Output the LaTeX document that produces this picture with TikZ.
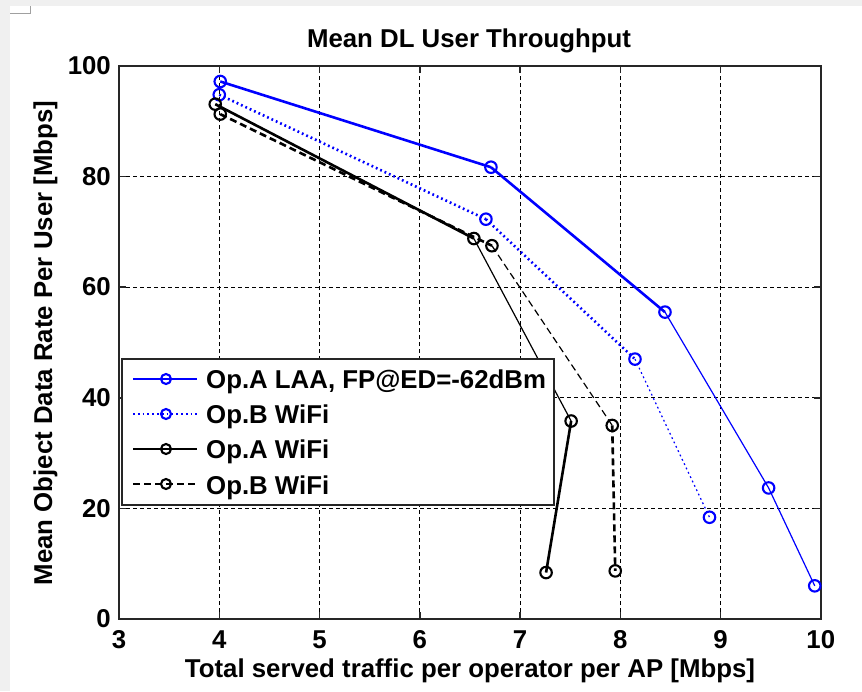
\documentclass[tikz,border=0pt]{standalone}
\usepackage{fontspec}
\setmainfont{Liberation Sans}
\definecolor{bggrey}{HTML}{F0F0F0}
\definecolor{markgrey}{HTML}{A0A0A0}
\begin{document}
\begin{tikzpicture}[x=1pt,y=-1pt,
  every node/.style={font=\fontsize{25.8}{30}\selectfont\bfseries, inner sep=0pt, text=black},
  gridline/.style={black, line width=1pt, dash pattern=on 4pt off 3pt},
  frameline/.style={black!85, line width=1.5pt},
  mkb/.style={circle, draw=blue, line width=2.1pt, minimum size=11.5pt, inner sep=0pt},
  mkk/.style={circle, draw=black, line width=2.1pt, minimum size=11.5pt, inner sep=0pt},
  thk/.style={line width=2.6pt},
  thn/.style={line width=1.2pt},
  dotb/.style={dash pattern=on 1.8pt off 3pt},
  dashk/.style={dash pattern=on 7pt off 4pt}
]
% background
\fill[bggrey] (0,0) rectangle (862,691);
\fill[white] (10,6) rectangle (862,691);
\draw[markgrey, line width=0.8pt] (10,13.3) -- (30,13.3) -- (30,6);
\useasboundingbox (0,0) rectangle (862,691);

\begin{scope}[shift={(-181.75,619)}, x=100.25pt, y=5.53pt]
  % grid
  \foreach \v in {4,...,9} \draw[gridline] (\v,0) -- (\v,100);
  \foreach \v in {20,40,60,80} \draw[gridline] (3,\v) -- (10,\v);
  % ticks
  \foreach \v in {4,...,9} {
    \draw[frameline] (\v,0) -- ++(0,1.27);
    \draw[frameline] (\v,100) -- ++(0,-1.27);
  }
  \foreach \v in {20,40,60,80} {
    \draw[frameline] (3,\v) -- ++(0.07,0);
    \draw[frameline] (10,\v) -- ++(-0.07,0);
  }
  % frame
  \draw[frameline] (3,0) rectangle (10,100);

  % data points
  \node[mkb] (a1) at (4.01,97.2) {};
  \node[mkb] (a2) at (6.71,81.7) {};
  \node[mkb] (a3) at (8.446,55.5) {};
  \node[mkb] (a4) at (9.48,23.7) {};
  \node[mkb] (a5) at (9.94,6.0) {};

  \node[mkb] (b1) at (4.00,94.8) {};
  \node[mkb] (b2) at (6.66,72.3) {};
  \node[mkb] (b3) at (8.147,47.0) {};
  \node[mkb] (b4) at (8.89,18.4) {};

  \node[mkk] (c1) at (3.96,93.1) {};
  \node[mkk] (c2) at (6.54,68.8) {};
  \node[mkk] (c3) at (7.51,35.8) {};
  \node[mkk] (c4) at (7.26,8.4) {};

  \node[mkk] (d1) at (4.01,91.3) {};
  \node[mkk] (d2) at (6.72,67.5) {};
  \node[mkk] (d3) at (7.92,35.0) {};
  \node[mkk] (d4) at (7.95,8.7) {};

  % curves
  \draw[blue,thk] (a1.center) -- (a2.center);
  \draw[blue,thk] (a2.center) -- (a3.center);
  \draw[blue,thn] (a3.center) -- (a4.center);
  \draw[blue,thn] (a4.center) -- (a5.center);

  \draw[blue,thk,dotb] (b1.center) -- (b2.center);
  \draw[blue,thk,dotb] (b2.center) -- (b3.center);
  \draw[blue,thn,dotb] (b3.center) -- (b4.center);

  \draw[black,thk] (c1.center) -- (c2.center);
  \draw[black,thn] (c2.center) -- (c3.center);
  \draw[black,thk] (c3.center) -- (c4.center);

  \draw[black,thk,dashk] (d1.center) -- (d2.center);
  \draw[black,thn,dashk] (d2.center) -- (d3.center);
  \draw[black,thk,dashk] (d3.center) -- (d4.center);
\end{scope}

% tick labels
\node[anchor=base] (x3) at (119,648) {3};
\node[anchor=base] (x4) at (219.25,648) {4};
\node[anchor=base] (x5) at (319.5,648) {5};
\node[anchor=base] (x6) at (419.75,648) {6};
\node[anchor=base] (x7) at (520,648) {7};
\node[anchor=base] (x8) at (620.25,648) {8};
\node[anchor=base] (x9) at (720.5,648) {9};
\node[anchor=base] (x10) at (820.75,648) {10};

\node[anchor=base east] (y0) at (111,627.7) {0};
\node[anchor=base east] (y20) at (111,517.1) {20};
\node[anchor=base east] (y40) at (111,406.5) {40};
\node[anchor=base east] (y60) at (111,295.9) {60};
\node[anchor=base east] (y80) at (111,185.3) {80};
\node[anchor=base east] (y100) at (111,74.7) {100};

% title and axis labels
\node[anchor=base] (title) at (469,47) {Mean DL User Throughput};
\node[anchor=base] (xlab) at (470,677) {Total served traffic per operator per AP [Mbps]};
\node[anchor=base, rotate=90] (ylab) at (52,343) {Mean Object Data Rate Per User [Mbps]};

% legend
\node[draw=black!85, fill=white, line width=1.5pt, minimum width=432pt, minimum height=146pt, anchor=north west] (legend) at (121,358) {};
\coordinate (l1a) at (133,379); \coordinate (l1b) at (197,379);
\coordinate (l2a) at (133,414); \coordinate (l2b) at (197,414);
\coordinate (l3a) at (133,449); \coordinate (l3b) at (197,449);
\coordinate (l4a) at (133,484); \coordinate (l4b) at (197,484);
\draw[blue,thk] (l1a) -- (l1b);
\draw[blue,thk,dotb] (l2a) -- (l2b);
\draw[black,thk] (l3a) -- (l3b);
\draw[black,thk,dashk] (l4a) -- (l4b);
\node[mkb, minimum size=10pt] (lm1) at (166,379) {};
\node[mkb, minimum size=10pt] (lm2) at (166,414) {};
\node[mkk, minimum size=10pt] (lm3) at (166,449) {};
\node[mkk, minimum size=10pt] (lm4) at (166,484) {};
\node[anchor=base west] (lt1) at (206,388) {Op.A LAA, FP@ED=-62dBm};
\node[anchor=base west] (lt2) at (206,423) {Op.B WiFi};
\node[anchor=base west] (lt3) at (206,458) {Op.A WiFi};
\node[anchor=base west] (lt4) at (206,494) {Op.B WiFi};
\end{tikzpicture}
\end{document}
